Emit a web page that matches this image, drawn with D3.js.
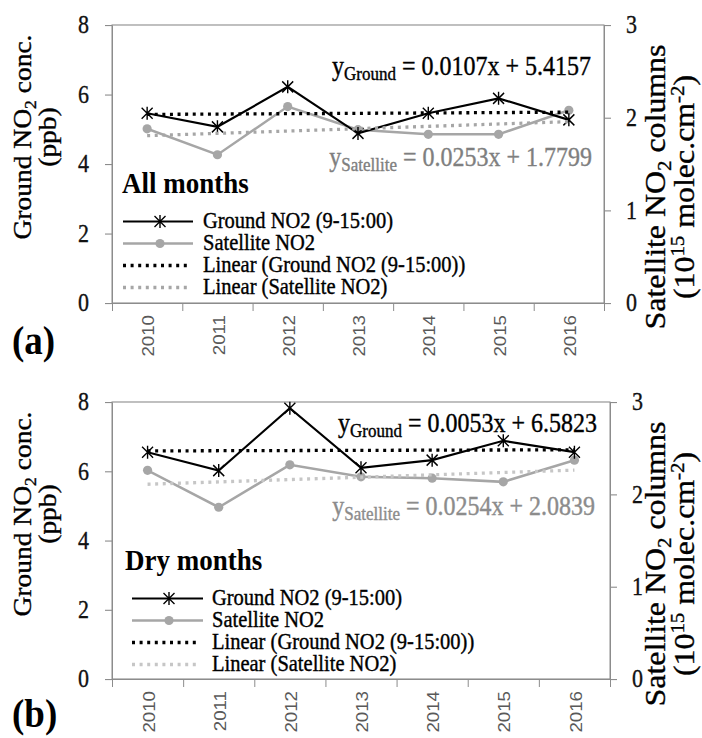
<!DOCTYPE html>
<html><head><meta charset="utf-8">
<script src="https://cdn.jsdelivr.net/npm/d3@7"></script>
<style>html,body{margin:0;padding:0;background:#fff}svg{display:block}</style>
</head><body>
<script>
// ---------- data ----------
const years = ["2010","2011","2012","2013","2014","2015","2016"];
const groundAll = [5.46, 5.07, 6.22, 4.88, 5.46, 5.89, 5.27];
const satAll    = [1.88, 1.60, 2.12, 1.87, 1.82, 1.82, 2.08];
const groundDry = [6.55, 6.02, 7.82, 6.10, 6.32, 6.88, 6.55];
const satDry    = [2.26, 1.86, 2.32, 2.19, 2.175, 2.135, 2.37];
const trendGroundAll = [0.0107, 5.4157];
const trendSatAll    = [0.0253, 1.7799];
const trendGroundDry = [0.0053, 6.5823];
const trendSatDry    = [0.0254, 2.0839];
const leftTicks  = [0, 2, 4, 6, 8];
const rightTicks = [0, 1, 2, 3];
const legendLabels = ["Ground NO2 (9-15:00)", "Satellite NO2", "Linear (Ground NO2 (9-15:00))", "Linear (Satellite NO2)"];
const panelTitles = ["All months", "Dry months"];
const panelTags = ["(a)", "(b)"];

// ---------- layout ----------
const W = 702, H = 738, K = 1.1;           // vertical stretch of the original figure
const Y = v => v / K;
const SERIF = "Liberation Serif";
const SANS = "Liberation Sans";
const BLACK = "#000", GREY = "#a6a6a6", AXIS = "#8c8c8c";
const DASH = "3,4.6";

const svg = d3.select("body").append("svg")
  .attr("width", W).attr("height", H)
  .attr("viewBox", `0 0 ${W} ${H / K}`)
  .attr("preserveAspectRatio", "none");

const panels = [
  { ground: groundAll, sat: satAll, tg: trendGroundAll, ts: trendSatAll, title: panelTitles[0], tag: panelTags[0],
    left: 112, right: 604, top: 25, bottom: 303,
    eqG: [591, 75], eqS: [592, 166], titleXY: [122, 193],
    leg: { y0: 228, dy: 22, x0: 123, x1: 193, mx: 160, tx: 203 },
    tagY: 354, satTrend: "#a6a6a6", satEq: "#7f7f7f", lt: 137, rt: 187 },
  { ground: groundDry, sat: satDry, tg: trendGroundDry, ts: trendSatDry, title: panelTitles[1], tag: panelTags[1],
    left: 112, right: 610, top: 402, bottom: 679,
    eqG: [597, 432], eqS: [595, 515], titleXY: [125, 570],
    leg: { y0: 605, dy: 22, x0: 132, x1: 203, mx: 169, tx: 212 },
    tagY: 727, satTrend: "#c6c6c6", satEq: "#8c8c8c", lt: 514, rt: 564 }
];

function thick(sel, color) {
  return sel.attr("stroke", color).attr("stroke-width", 0.35);
}
function star(g, x, y) {
  const s = 6.5, d = 5.5;
  g.append("path")
    .attr("d", `M${x},${y - Y(s)}L${x},${y + Y(s)}M${x - d},${y - Y(d)}L${x + d},${y + Y(d)}M${x - d},${y + Y(d)}L${x + d},${y - Y(d)}`)
    .attr("stroke", BLACK).attr("stroke-width", 1.4).attr("fill", "none");
}
function dot(g, x, y, c) {
  g.append("ellipse").attr("cx", x).attr("cy", y).attr("rx", 4.6).attr("ry", Y(4.6)).attr("fill", c);
}

panels.forEach(p => {
  const g = svg.append("g");
  const xBand = d3.scaleBand().domain(years).range([p.left, p.right]);
  const cx = i => xBand(years[i]) + xBand.bandwidth() / 2;
  const xEdge = d3.scaleLinear().domain([0, years.length]).range([p.left, p.right]);
  const yL = d3.scaleLinear().domain([0, 8]).range([Y(p.bottom), Y(p.top)]);
  const yR = d3.scaleLinear().domain([0, 3]).range([Y(p.bottom), Y(p.top)]);

  // plot border
  g.append("rect").attr("x", p.left).attr("y", Y(p.top))
    .attr("width", p.right - p.left).attr("height", Y(p.bottom) - Y(p.top))
    .attr("fill", "none").attr("stroke", AXIS).attr("stroke-width", 1);

  const styleAxis = a => {
    a.selectAll("path,line").attr("stroke", AXIS).attr("stroke-width", 1);
    a.selectAll("text").attr("font-family", SERIF).attr("font-size", 22).attr("fill", "#111")
      .attr("stroke", "#111").attr("stroke-width", 0.3);
  };
  g.append("g").attr("transform", `translate(${p.left},0)`)
    .call(d3.axisLeft(yL).tickValues(leftTicks).tickFormat(d3.format("d")).tickSize(7).tickSizeOuter(0).tickPadding(16))
    .call(styleAxis);
  g.append("g").attr("transform", `translate(${p.right},0)`)
    .call(d3.axisRight(yR).tickValues(rightTicks).tickFormat(d3.format("d")).tickSize(7).tickSizeOuter(0).tickPadding(15))
    .call(styleAxis);
  g.append("g").attr("transform", `translate(0,${Y(p.bottom)})`)
    .call(d3.axisBottom(xEdge).tickValues(d3.range(years.length + 1)).tickFormat("").tickSize(Y(8)).tickSizeOuter(0))
    .call(styleAxis);

  // year labels
  years.forEach((yr, i) => {
    g.append("text")
      .attr("transform", `translate(${cx(i) + 1},${Y(p.bottom + 12)}) rotate(-90)`)
      .attr("text-anchor", "end").attr("dy", "0.36em")
      .attr("font-family", SANS).attr("font-size", 17).attr("fill", "#595959")
      .text(yr);
  });

  // satellite series
  const lineS = d3.line().x((d, i) => cx(i)).y(d => yR(d));
  g.append("path").datum(p.sat).attr("d", lineS).attr("fill", "none").attr("stroke", GREY).attr("stroke-width", 2.3);
  p.sat.forEach((v, i) => dot(g, cx(i), yR(v), GREY));

  // ground series
  const lineG = d3.line().x((d, i) => cx(i)).y(d => yL(d));
  g.append("path").datum(p.ground).attr("d", lineG).attr("fill", "none").attr("stroke", BLACK).attr("stroke-width", 2);
  p.ground.forEach((v, i) => star(g, cx(i), yL(v)));

  // trend lines
  const idx = [0, years.length - 1];
  g.append("path").datum(idx)
    .attr("d", d3.line().x(i => cx(i)).y(i => yL(p.tg[0] * (i + 1) + p.tg[1])))
    .attr("stroke", BLACK).attr("stroke-width", 3).attr("stroke-dasharray", DASH).attr("fill", "none");
  g.append("path").datum(idx)
    .attr("d", d3.line().x(i => cx(i)).y(i => yR(p.ts[0] * (i + 1) + p.ts[1])))
    .attr("stroke", p.satTrend).attr("stroke-width", 3).attr("stroke-dasharray", DASH).attr("fill", "none");

  // equations
  const eq = (xy, name, coef, color) => {
    const t = g.append("text").attr("x", xy[0]).attr("y", Y(xy[1])).attr("text-anchor", "end")
      .attr("font-family", SERIF).attr("font-size", 24).attr("fill", color);
    thick(t, color);
    t.append("tspan").text("y");
    t.append("tspan").attr("font-size", 17).attr("dy", 4.5).text(name);
    t.append("tspan").attr("dy", -4.5).text(` = ${coef[0].toFixed(4)}x + ${coef[1].toFixed(4)}`);
  };
  eq(p.eqG, "Ground", p.tg, BLACK);
  eq(p.eqS, "Satellite", p.ts, p.satEq);

  // panel title
  g.append("text").attr("x", p.titleXY[0]).attr("y", Y(p.titleXY[1]))
    .attr("font-family", SERIF).attr("font-weight", "bold").attr("font-size", 27).text(p.title);

  // legend
  const L = p.leg;
  legendLabels.forEach((lab, i) => {
    const by = L.y0 + i * L.dy, sy = Y(by - 6.5);
    if (i === 0) {
      g.append("line").attr("x1", L.x0).attr("x2", L.x1).attr("y1", sy).attr("y2", sy).attr("stroke", BLACK).attr("stroke-width", 2);
      star(g, L.mx, sy);
    } else if (i === 1) {
      g.append("line").attr("x1", L.x0).attr("x2", L.x1).attr("y1", sy).attr("y2", sy).attr("stroke", GREY).attr("stroke-width", 2.3);
      dot(g, L.mx, sy, GREY);
    } else {
      g.append("line").attr("x1", L.x0).attr("x2", L.x1 - 3).attr("y1", sy).attr("y2", sy)
        .attr("stroke", i === 2 ? BLACK : p.satTrend).attr("stroke-width", 3).attr("stroke-dasharray", DASH);
    }
    thick(g.append("text").attr("x", L.tx).attr("y", Y(by)).attr("font-family", SERIF).attr("font-size", 20.5).text(lab), BLACK);
  });

  // tag
  g.append("text").attr("x", 12).attr("y", Y(p.tagY)).attr("font-family", SERIF)
    .attr("font-weight", "bold").attr("font-size", 37).text(p.tag);

  // left axis title
  const lt1 = g.append("text").attr("transform", `translate(31,${Y(p.lt)}) rotate(-90)`)
    .attr("text-anchor", "middle").attr("font-family", SERIF).attr("font-size", 25);
  thick(lt1, BLACK);
  lt1.append("tspan").text("Ground NO");
  lt1.append("tspan").attr("font-size", 16).attr("dy", 5).text("2");
  lt1.append("tspan").attr("dy", -5).text(" conc.");
  thick(g.append("text").attr("transform", `translate(56,${Y(p.lt)}) rotate(-90)`)
    .attr("text-anchor", "middle").attr("font-family", SERIF).attr("font-size", 25).text("(ppb)"), BLACK);

  // right axis title
  const rt1 = g.append("text").attr("transform", `translate(665,${Y(p.rt)}) rotate(-90)`)
    .attr("text-anchor", "middle").attr("font-family", SERIF).attr("font-size", 29);
  thick(rt1, BLACK);
  rt1.append("tspan").text("Satellite NO");
  rt1.append("tspan").attr("font-size", 19).attr("dy", 6).text("2");
  rt1.append("tspan").attr("dy", -6).text(" columns");
  const rt2 = g.append("text").attr("transform", `translate(694,${Y(p.rt)}) rotate(-90)`)
    .attr("text-anchor", "middle").attr("font-family", SERIF).attr("font-size", 29);
  thick(rt2, BLACK);
  rt2.append("tspan").text("(10");
  rt2.append("tspan").attr("font-size", 19).attr("dy", -10).text("15");
  rt2.append("tspan").attr("dy", 10).text(" molec.cm");
  rt2.append("tspan").attr("font-size", 19).attr("dy", -10).text("-2");
  rt2.append("tspan").attr("dy", 10).text(")");
});
</script>
</body></html>
